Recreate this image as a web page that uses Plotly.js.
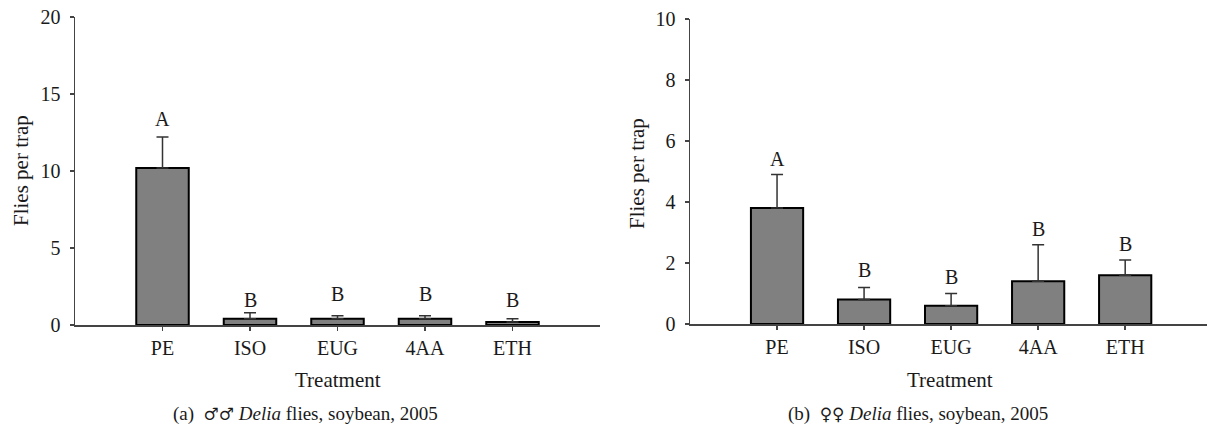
<!DOCTYPE html>
<html>
<head>
<meta charset="utf-8">
<script src="https://cdn.plot.ly/plotly-3.0.1.min.js"></script>
<style>html,body{margin:0;padding:0;background:#fff;}#chart{width:1208px;height:428px;}</style>
</head>
<body>
<div id="chart"></div>
<script>
const categories = ['PE', 'ISO', 'EUG', '4AA', 'ETH'];
const maleMeans = [10.2, 0.4, 0.4, 0.4, 0.2];
const maleErr = [2.0, 0.4, 0.2, 0.2, 0.2];
const maleLetters = ['A', 'B', 'B', 'B', 'B'];
const maleLetterY = [13.4, 1.63, 2.0, 2.0, 1.63];
const femaleMeans = [3.8, 0.8, 0.6, 1.4, 1.6];
const femaleErr = [1.1, 0.4, 0.4, 1.2, 0.5];
const femaleLetters = ['A', 'B', 'B', 'B', 'B'];
const femaleLetterY = [5.42, 1.76, 1.54, 3.12, 2.63];
const leftTicks = [0, 5, 10, 15, 20];
const rightTicks = [0, 2, 4, 6, 8, 10];

const W = 1208, H = 428;
const FONT = 'Liberation Serif';
const TXT = '#1a1a1a';
const zeros = categories.map(() => 0);

function barTrace(y, err, xa, ya) {
  return {
    type: 'bar', x: categories, y: y, xaxis: xa, yaxis: ya, width: 0.6,
    marker: {color: '#808080', line: {color: '#000', width: 2}},
    error_y: {type: 'data', symmetric: false, array: err, arrayminus: zeros,
              color: '#333', thickness: 1.5, width: 6},
    hoverinfo: 'none', showlegend: false
  };
}

const data = [
  barTrace(maleMeans, maleErr, 'x', 'y'),
  barTrace(femaleMeans, femaleErr, 'x2', 'y2')
];

const annotations = [];
categories.forEach((c, i) => {
  annotations.push({xref: 'x', yref: 'y', x: c, y: maleLetterY[i], text: maleLetters[i],
    showarrow: false, font: {family: FONT, size: 20, color: TXT}});
  annotations.push({xref: 'x2', yref: 'y2', x: c, y: femaleLetterY[i], text: femaleLetters[i],
    showarrow: false, font: {family: FONT, size: 20, color: TXT}});
});
function pa(px, py, text, opts) {
  return Object.assign({xref: 'paper', yref: 'paper', x: px / W, y: 1 - py / H, text: text,
    showarrow: false, xanchor: 'center', yanchor: 'middle',
    font: {family: FONT, size: 21, color: TXT}}, opts || {});
}
const sym = s => '<span style="font-family:DejaVu Serif;font-size:17px">' + s + '</span>';
annotations.push(pa(21, 171, 'Flies per trap', {textangle: -90}));
annotations.push(pa(637, 174, 'Flies per trap', {textangle: -90}));
annotations.push(pa(338, 380, 'Treatment'));
annotations.push(pa(950, 380, 'Treatment'));
annotations.push(pa(305, 414, '(a)  ' + sym('♂♂') + ' <i>Delia</i> flies, soybean, 2005', {font: {family: FONT, size: 19, color: TXT}}));
annotations.push(pa(918, 414, '(b)  ' + sym('♀♀') + ' <i>Delia</i> flies, soybean, 2005', {font: {family: FONT, size: 19, color: TXT}}));

function xAxis(d0, d1, anchor, r1) {
  return {domain: [d0 / W, d1 / W], anchor: anchor, type: 'category', range: [-1, r1],
    showline: true, linecolor: '#444', linewidth: 1.5, ticks: 'outside', ticklen: 4,
    tickwidth: 1.5, tickcolor: '#444', showgrid: false, zeroline: false, fixedrange: true,
    tickfont: {family: FONT, size: 20, color: TXT}};
}
function yAxis(top, bottom, anchor, max, tv) {
  return {domain: [1 - bottom / H, 1 - top / H], anchor: anchor, range: [0, max],
    tickvals: tv, showline: true, linecolor: '#444', linewidth: 1.5, ticks: 'outside',
    ticklen: 4, tickwidth: 1.5, tickcolor: '#444', showgrid: false, zeroline: false,
    ticklabelstandoff: 5,
    fixedrange: true, tickfont: {family: FONT, size: 20, color: TXT}};
}

const layout = {
  width: W, height: H, margin: {l: 0, r: 0, t: 0, b: 0},
  paper_bgcolor: '#fff', plot_bgcolor: '#fff', showlegend: false,
  font: {family: FONT},
  xaxis: xAxis(75, 600, 'y', 5),
  yaxis: yAxis(17, 325, 'x', 20, leftTicks),
  xaxis2: xAxis(690, 1207, 'y2', 4.94),
  yaxis2: yAxis(19, 324, 'x2', 10, rightTicks),
  annotations: annotations, bargap: 0.4
};

Plotly.newPlot('chart', data, layout, {displayModeBar: false, staticPlot: true});
</script>
</body>
</html>
